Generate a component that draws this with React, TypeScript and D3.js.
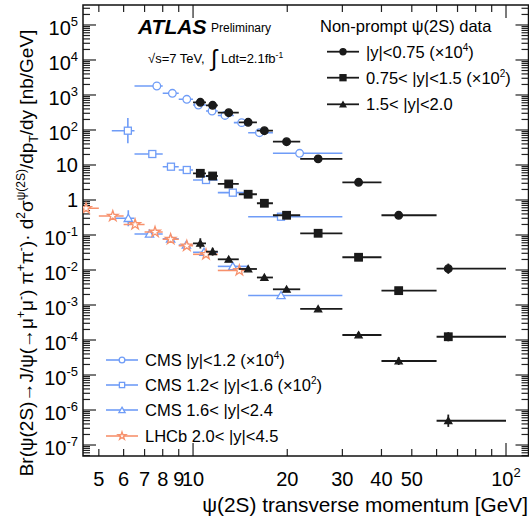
import React from "react";
import * as d3 from "d3";

const W = 529, H = 519;
const PL = 83, PR = 528.5, PT = 5, PB = 456;

// ATLAS non-prompt psi(2S) — common pT binning
const atlasPt = [10.55, 11.55, 13.0, 15.0, 16.9, 19.9, 25.1, 33.8, 45.4, 65.4];
const atlasLo = [10, 11, 12, 14, 16, 18, 22, 30, 40, 60];
const atlasHi = [11, 12, 14, 16, 18, 22, 30, 40, 60, 100];
const atlasCentral = [0.0618, 0.0508, 0.0312, 0.0166, 0.00955, 0.00463, 0.0015, 0.00032, 3.66e-5, 1.09e-6];
const atlasCentralErr = [1.1, 1.1, 1.1, 1.1, 1.1, 1.12, 1.15, 1.2, 1.25, 1.4];
const atlasMid = [0.0579, 0.0485, 0.0287, 0.0146, 0.00806, 0.00366, 0.00112, 0.000231, 2.57e-5, 1.24e-6];
const atlasMidErr = [1.1, 1.1, 1.1, 1.1, 1.1, 1.12, 1.15, 1.2, 1.25, 1.35];
const atlasFwd = [0.058, 0.0334, 0.0202, 0.0107, 0.00611, 0.00281, 7.7e-4, 1.39e-4, 2.51e-5, 4.94e-7];
const atlasFwdErr = [1.4, 1.3, 1.15, 1.15, 1.15, 1.15, 1.2, 1.2, 1.3, 1.5];

// CMS |y|<1.2
const cmsCPt = [7.66, 8.59, 9.55, 10.4, 11.5, 12.65, 14.3, 16.3, 21.9];
const cmsCLo = [6.5, 8, 9, 10, 11, 12, 13.5, 15, 18];
const cmsCHi = [8, 9, 10, 11, 12, 13.5, 15, 18, 30];
const cmsCentral = [0.1808, 0.1119, 0.0754, 0.0518, 0.0349, 0.026, 0.0162, 0.00837, 0.00216];
const cmsCentralErr = [1.12, 1.1, 1.1, 1.1, 1.1, 1.1, 1.1, 1.1, 1.15];

// CMS 1.2<|y|<1.6 and 1.6<|y|<2.4
const cmsFPtMid = [6.19, 7.41, 8.5, 9.55, 11.0, 13.4, 19.1];
const cmsFPtFwd = [6.21, 7.26, 8.48, 9.52, 10.84, 13.4, 19.1];
const cmsFLo = [5.5, 6.5, 8, 9, 10, 12, 15];
const cmsFHi = [6.5, 8, 9, 10, 12, 15, 30];
const cmsMid = [0.955, 0.206, 0.0894, 0.072, 0.0373, 0.0162, 0.00333];
const cmsMidErr = [2.3, 1.15, 1.12, 1.12, 1.12, 1.12, 1.2];
const cmsFwd = [0.30, 0.107, 0.0778, 0.0518, 0.0323, 0.0127, 0.00187];
const cmsFwdErr = [1.7, 1.15, 1.12, 1.12, 1.12, 1.12, 1.2];

// LHCb 2.0<|y|<4.5
const lhcbPt = [4.55, 5.54, 6.53, 7.56, 8.48, 9.55, 11.0, 14.06];
const lhcbLo = [4, 5, 6, 7, 8, 9, 10, 12];
const lhcbHi = [5, 6, 7, 8, 9, 10, 12, 15];
const lhcbVal = [0.58, 0.349, 0.2, 0.122, 0.0759, 0.0491, 0.0281, 0.0097];
const lhcbErr = [1.08, 1.08, 1.08, 1.08, 1.08, 1.08, 1.08, 1.1];

const xMajorTicks = [10, 100];
const xMinorTicks = [5, 6, 7, 8, 9, 20, 30, 40, 50, 60, 70, 80, 90];
const xTickLabels: [number, string, string][] = [
  [5, "5", ""], [6, "6", ""], [7, "7", ""], [8, "8", ""], [9, "9", ""],
  [10, "10", ""], [20, "20", ""], [30, "30", ""], [40, "40", ""], [50, "50", ""], [100, "10", "2"],
];
const yExponents = [5, 4, 3, 2, 1, 0, -1, -2, -3, -4, -5, -6, -7];

const BLUE = "#6f9cf7";
const ORANGE = "#f7916c";
const DARK = "#1a1a1a";
const FONT = "'Liberation Sans', Arial, Helvetica, sans-serif";

const x = d3.scaleLog().domain([4.45, 118]).range([PL, PR]);
const y = d3.scaleLog().domain([Math.pow(10, -7.314), Math.pow(10, 5.571)]).range([PB, PT]);

type Marker = "fcircle" | "fsquare" | "ftri" | "ocircle" | "osquare" | "otri" | "ostar";

function MarkerShape({ type, cx, cy, color, scale = 1 }: { type: Marker; cx: number; cy: number; color: string; scale?: number }) {
  const filled = type.startsWith("f");
  const fill = filled ? color : "#fff";
  const sw = 1.3;
  if (type === "fcircle" || type === "ocircle") {
    return <circle cx={cx} cy={cy} r={3.8 * scale} fill={fill} stroke={color} strokeWidth={sw} />;
  }
  if (type === "fsquare" || type === "osquare") {
    const s = (filled ? 7.5 : 7) * scale;
    return <rect x={cx - s / 2} y={cy - s / 2} width={s} height={s} fill={fill} stroke={color} strokeWidth={sw} />;
  }
  const sym = type === "ostar" ? d3.symbolStar : d3.symbolTriangle;
  const base = type === "ostar" ? 34 : type === "ftri" ? 22 : 30;
  const size = base * scale * scale;
  const path = d3.symbol().type(sym).size(size)() as string;
  return <path d={path} transform={`translate(${cx},${cy + (type === "ostar" ? 0 : 0.8)})`} fill={fill} stroke={color} strokeWidth={sw} />;
}

function Series({ pt, lo, hi, vals, errs, factor, color, marker, lineW }: {
  pt: number[]; lo: number[]; hi: number[]; vals: number[]; errs: number[]; factor: number; color: string; marker: Marker; lineW: number;
}) {
  return (
    <g>
      {pt.map((p, i) => {
        const v = vals[i] * factor;
        const k = errs[i];
        const cy = y(v);
        return (
          <g key={i}>
            <line x1={x(lo[i])} x2={x(hi[i])} y1={cy} y2={cy} stroke={color} strokeWidth={lineW} />
            <line x1={x(p)} x2={x(p)} y1={y(v / k)} y2={y(v * k)} stroke={color} strokeWidth={lineW} />
            <MarkerShape type={marker} cx={x(p)} cy={cy} color={color} />
          </g>
        );
      })}
    </g>
  );
}

export default function App() {
  const yMinor: number[] = [];
  for (let e = -8; e <= 5; e++) for (let m = 2; m <= 9; m++) {
    const v = m * Math.pow(10, e);
    const py = y(v);
    if (py > PT && py < PB) yMinor.push(v);
  }
  const tickColor = "#222";
  return (
    <svg width={W} height={H} style={{ display: "block", position: "absolute", left: 0, top: 0 }} fontFamily={FONT}>
      <rect x={0} y={0} width={W} height={H} fill="#fff" />
      <defs>
        <clipPath id="plotclip"><rect x={PL} y={PT} width={PR - PL} height={PB - PT} /></clipPath>
      </defs>

      {/* ticks */}
      <g stroke={tickColor} strokeWidth={1.2}>
        {xMajorTicks.map(t => (
          <g key={"xM" + t}>
            <line x1={x(t)} x2={x(t)} y1={PB} y2={PB - 13} />
            <line x1={x(t)} x2={x(t)} y1={PT} y2={PT + 13} />
          </g>
        ))}
        {xMinorTicks.map(t => (
          <g key={"xm" + t}>
            <line x1={x(t)} x2={x(t)} y1={PB} y2={PB - 7} />
            <line x1={x(t)} x2={x(t)} y1={PT} y2={PT + 7} />
          </g>
        ))}
        {yExponents.map(e => (
          <g key={"yM" + e}>
            <line x1={PL} x2={PL + 13} y1={y(Math.pow(10, e))} y2={y(Math.pow(10, e))} />
            <line x1={PR} x2={PR - 13} y1={y(Math.pow(10, e))} y2={y(Math.pow(10, e))} />
          </g>
        ))}
        {yMinor.map((v, i) => (
          <g key={"ym" + i}>
            <line x1={PL} x2={PL + 7} y1={y(v)} y2={y(v)} />
            <line x1={PR} x2={PR - 7} y1={y(v)} y2={y(v)} />
          </g>
        ))}
      </g>
      <rect x={PL} y={PT} width={PR - PL} height={PB - PT} fill="none" stroke="#111" strokeWidth={1.5} />

      {/* y tick labels */}
      <g fontSize={20} fill="#000" textAnchor="end">
        {yExponents.map(e => {
          const ty = y(Math.pow(10, e));
          if (e === 0) return <text key={e} x={78} y={ty + 7.5}>1</text>;
          if (e === 1) return <text key={e} x={78} y={ty + 7.5}>10</text>;
          return (
            <text key={e} x={78} y={ty + 10}>
              10<tspan fontSize={13} dy={-9}>{e}</tspan>
            </text>
          );
        })}
      </g>

      {/* x tick labels */}
      <g fontSize={20} fill="#000" textAnchor="middle">
        {xTickLabels.map(([v, base, sup]) => (
          <text key={v} x={x(v)} y={486}>
            {base}{sup ? <tspan fontSize={13} dy={-9}>{sup}</tspan> : null}
          </text>
        ))}
      </g>

      {/* data */}
      <g clipPath="url(#plotclip)">
        <Series pt={cmsCPt} lo={cmsCLo} hi={cmsCHi} vals={cmsCentral} errs={cmsCentralErr} factor={1e4} color={BLUE} marker="ocircle" lineW={1.6} />
        <Series pt={cmsFPtMid} lo={cmsFLo} hi={cmsFHi} vals={cmsMid} errs={cmsMidErr} factor={1e2} color={BLUE} marker="osquare" lineW={1.6} />
        <Series pt={cmsFPtFwd} lo={cmsFLo} hi={cmsFHi} vals={cmsFwd} errs={cmsFwdErr} factor={1} color={BLUE} marker="otri" lineW={1.6} />
        <Series pt={lhcbPt} lo={lhcbLo} hi={lhcbHi} vals={lhcbVal} errs={lhcbErr} factor={1} color={ORANGE} marker="ostar" lineW={1.6} />
        <Series pt={atlasPt} lo={atlasLo} hi={atlasHi} vals={atlasCentral} errs={atlasCentralErr} factor={1e4} color={DARK} marker="fcircle" lineW={1.8} />
        <Series pt={atlasPt} lo={atlasLo} hi={atlasHi} vals={atlasMid} errs={atlasMidErr} factor={1e2} color={DARK} marker="fsquare" lineW={1.8} />
        <Series pt={atlasPt} lo={atlasLo} hi={atlasHi} vals={atlasFwd} errs={atlasFwdErr} factor={1} color={DARK} marker="ftri" lineW={1.8} />
      </g>

      {/* ATLAS label */}
      <text x={138} y={34} fontSize={21} fontWeight="bold" fontStyle="italic" fill="#000">ATLAS</text>
      <text x={211} y={32} fontSize={12} fill="#000">Preliminary</text>
      <text x={148} y={63} fontSize={13} fill="#000">
        √s=7 TeV,
        <tspan fontSize={23} dy={3}> ∫</tspan>
        <tspan fontSize={13} dy={-3}> Ldt=2.1fb</tspan>
        <tspan fontSize={8.5} dy={-5}>-1</tspan>
      </text>

      {/* top-right legend */}
      <g fontSize={16.5} fill="#000">
        <text x={320} y={32}>Non-prompt ψ(2S) data</text>
        {[
          { m: "fcircle" as Marker, t: "|y|<0.75 (×10", s: "4" },
          { m: "fsquare" as Marker, t: "0.75< |y|<1.5 (×10", s: "2" },
          { m: "ftri" as Marker, t: "1.5< |y|<2.0", s: "" },
        ].map((e, i) => {
          const ly = [51.7, 77.7, 104.3][i];
          return (
            <g key={i}>
              <line x1={327} x2={359} y1={ly} y2={ly} stroke={DARK} strokeWidth={1.8} />
              <MarkerShape type={e.m} cx={343} cy={ly} color={DARK} scale={0.8} />
              <text x={366} y={ly + 6}>
                {e.t}{e.s ? <><tspan fontSize={10} dy={-7}>{e.s}</tspan><tspan dy={7}>)</tspan></> : null}
              </text>
            </g>
          );
        })}
      </g>

      {/* bottom-left legend */}
      <g fontSize={16.5} fill="#000">
        {[
          { m: "ocircle" as Marker, c: BLUE, t: "CMS |y|<1.2 (×10", s: "4" },
          { m: "osquare" as Marker, c: BLUE, t: "CMS 1.2< |y|<1.6 (×10", s: "2" },
          { m: "otri" as Marker, c: BLUE, t: "CMS 1.6< |y|<2.4", s: "" },
          { m: "ostar" as Marker, c: ORANGE, t: "LHCb 2.0< |y|<4.5", s: "" },
        ].map((e, i) => {
          const ly = [360, 385, 410, 436][i];
          return (
            <g key={i}>
              <line x1={106} x2={138} y1={ly} y2={ly} stroke={e.c} strokeWidth={1.6} />
              <MarkerShape type={e.m} cx={122} cy={ly} color={e.c} scale={0.75} />
              <text x={145} y={ly + 6}>
                {e.t}{e.s ? <><tspan fontSize={10} dy={-7}>{e.s}</tspan><tspan dy={7}>)</tspan></> : null}
              </text>
            </g>
          );
        })}
      </g>

      {/* axis titles */}
      <text x={528} y={512} fontSize={20.8} textAnchor="end" fill="#000">ψ(2S) transverse momentum [GeV]</text>
      <text transform="translate(33,253) rotate(-90)" fontSize={19} textAnchor="middle" fill="#000">
        Br(ψ(2S)→J/ψ(→μ<tspan fontSize={12} dy={-8}>+</tspan><tspan dy={8}>μ</tspan>
        <tspan fontSize={12} dy={-8}>-</tspan><tspan dy={8}>) π</tspan>
        <tspan fontSize={12} dy={-8}>+</tspan><tspan dy={8}>π</tspan>
        <tspan fontSize={12} dy={-8}>-</tspan><tspan dy={8}>)· d</tspan>
        <tspan fontSize={12} dy={-8}>2</tspan><tspan dy={8}>σ</tspan>
        <tspan fontSize={12} dy={-8}>ψ(2S)</tspan><tspan dy={8}>/dp</tspan>
        <tspan fontSize={12} dy={5}>T</tspan><tspan dy={-5}>/dy [nb/GeV]</tspan>
      </text>
    </svg>
  );
}
